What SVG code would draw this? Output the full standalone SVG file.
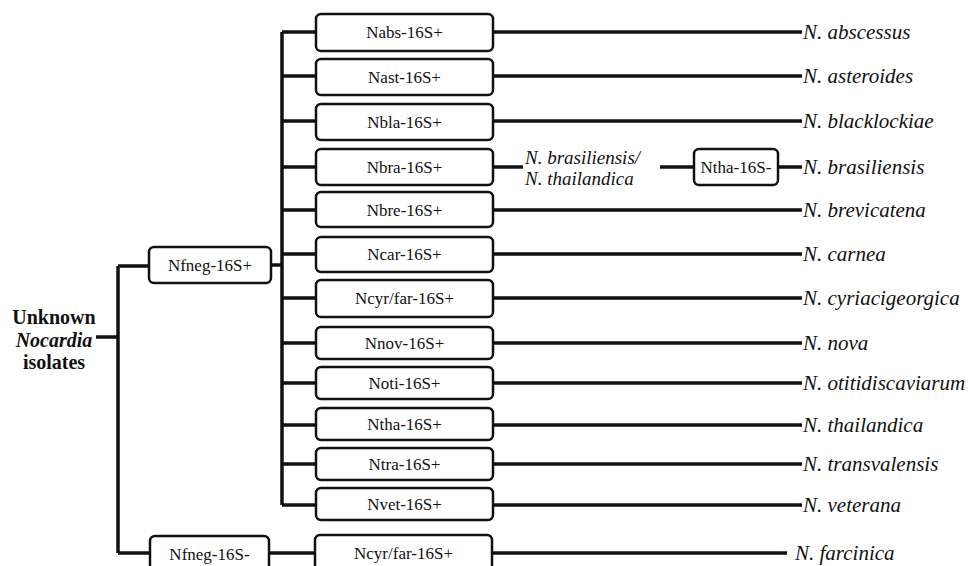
<svg xmlns="http://www.w3.org/2000/svg" width="971" height="566" viewBox="0 0 971 566">
<style>
.box{fill:#fff;stroke:#111;stroke-width:2.5}
.bt{font-family:"Liberation Serif","Times New Roman",serif;font-size:17px;fill:#111;text-anchor:middle}
.sp{font-family:"Liberation Serif","Times New Roman",serif;font-size:21px;font-style:italic;fill:#111}
.mid{font-family:"Liberation Serif","Times New Roman",serif;font-size:19px;font-style:italic;fill:#111}
.root{font-family:"Liberation Serif","Times New Roman",serif;font-size:20px;font-weight:bold;fill:#111;text-anchor:middle}
.c{fill:none;stroke:#111;stroke-width:3.5}
</style>
<rect width="971" height="566" fill="#fff"/>
<g id="connectors">
<path class="c" d="M96 337H118M118 266V553M118 266H150M118 553H150"/>
<path class="c" d="M271 265H282M282 32V505"/>
<path class="c" d="M282 32H316M282 76H316M282 121H316M282 167H316M282 210H316M282 254H316M282 298H316M282 343H316M282 383H316M282 425H316M282 464H316M282 505H316"/>
<path class="c" d="M269 553H316"/>
<path class="c" d="M493 32H802M493 76H802M493 121H802M493 210H802M493 254H802M493 298H802M493 343H802M493 383H802M493 425H802M493 464H802M493 505H802M492 553H787"/>
<path class="c" d="M493 167H523M660 167H694M778 167H802"/>
</g>
<g id="root">
<text class="root" x="54" y="324">Unknown</text>
<text class="root" x="54" y="346.5" font-style="italic">Nocardia</text>
<text class="root" x="54" y="369">isolates</text>
</g>
<g id="nfneg-plus"><rect class="box" x="149" y="247" width="122" height="36" rx="5"/><text class="bt" x="210" y="271">Nfneg-16S+</text></g>
<g id="nfneg-minus"><rect class="box" x="150" y="536" width="119" height="40" rx="5"/><text class="bt" x="209.5" y="560">Nfneg-16S-</text></g>
<g id="nabs"><rect class="box" x="316" y="14" width="177" height="37" rx="5"/><text class="bt" x="404.5" y="38">Nabs-16S+</text></g>
<g id="nast"><rect class="box" x="316" y="59" width="177" height="36" rx="5"/><text class="bt" x="404.5" y="83">Nast-16S+</text></g>
<g id="nbla"><rect class="box" x="316" y="104" width="177" height="36" rx="5"/><text class="bt" x="404.5" y="128">Nbla-16S+</text></g>
<g id="nbra"><rect class="box" x="316" y="149" width="177" height="36" rx="5"/><text class="bt" x="404.5" y="173">Nbra-16S+</text></g>
<g id="nbre"><rect class="box" x="316" y="192" width="177" height="35" rx="5"/><text class="bt" x="404.5" y="216">Nbre-16S+</text></g>
<g id="ncar"><rect class="box" x="316" y="237" width="177" height="35" rx="5"/><text class="bt" x="404.5" y="260">Ncar-16S+</text></g>
<g id="ncyr"><rect class="box" x="316" y="280" width="177" height="37" rx="5"/><text class="bt" x="404.5" y="304">Ncyr/far-16S+</text></g>
<g id="nnov"><rect class="box" x="316" y="327" width="177" height="32" rx="5"/><text class="bt" x="404.5" y="349">Nnov-16S+</text></g>
<g id="noti"><rect class="box" x="316" y="367" width="177" height="32" rx="5"/><text class="bt" x="404.5" y="389">Noti-16S+</text></g>
<g id="ntha"><rect class="box" x="316" y="408" width="177" height="32" rx="5"/><text class="bt" x="404.5" y="430">Ntha-16S+</text></g>
<g id="ntra"><rect class="box" x="316" y="448" width="177" height="32" rx="5"/><text class="bt" x="404.5" y="470">Ntra-16S+</text></g>
<g id="nvet"><rect class="box" x="316" y="488" width="177" height="32" rx="5"/><text class="bt" x="404.5" y="510">Nvet-16S+</text></g>
<g id="ncyr2"><rect class="box" x="315" y="535" width="177" height="40" rx="5"/><text class="bt" x="403.5" y="559">Ncyr/far-16S+</text></g>
<g id="bra-tha"><text class="mid" x="525" y="164">N. brasiliensis/</text><text class="mid" x="525" y="185">N. thailandica</text></g>
<g id="ntha-minus"><rect class="box" x="694" y="149" width="84" height="36" rx="5"/><text class="bt" x="736" y="173" font-size="16">Ntha-16S-</text></g>
<g id="species">
<text class="sp" x="803" y="39">N. abscessus</text>
<text class="sp" x="803" y="83">N. asteroides</text>
<text class="sp" x="803" y="128">N. blacklockiae</text>
<text class="sp" x="803" y="174">N. brasiliensis</text>
<text class="sp" x="803" y="217">N. brevicatena</text>
<text class="sp" x="803" y="261">N. carnea</text>
<text class="sp" x="803" y="305">N. cyriacigeorgica</text>
<text class="sp" x="803" y="350">N. nova</text>
<text class="sp" x="803" y="390">N. otitidiscaviarum</text>
<text class="sp" x="803" y="432">N. thailandica</text>
<text class="sp" x="803" y="471">N. transvalensis</text>
<text class="sp" x="803" y="512">N. veterana</text>
<text class="sp" x="795" y="560">N. farcinica</text>
</g>
</svg>
